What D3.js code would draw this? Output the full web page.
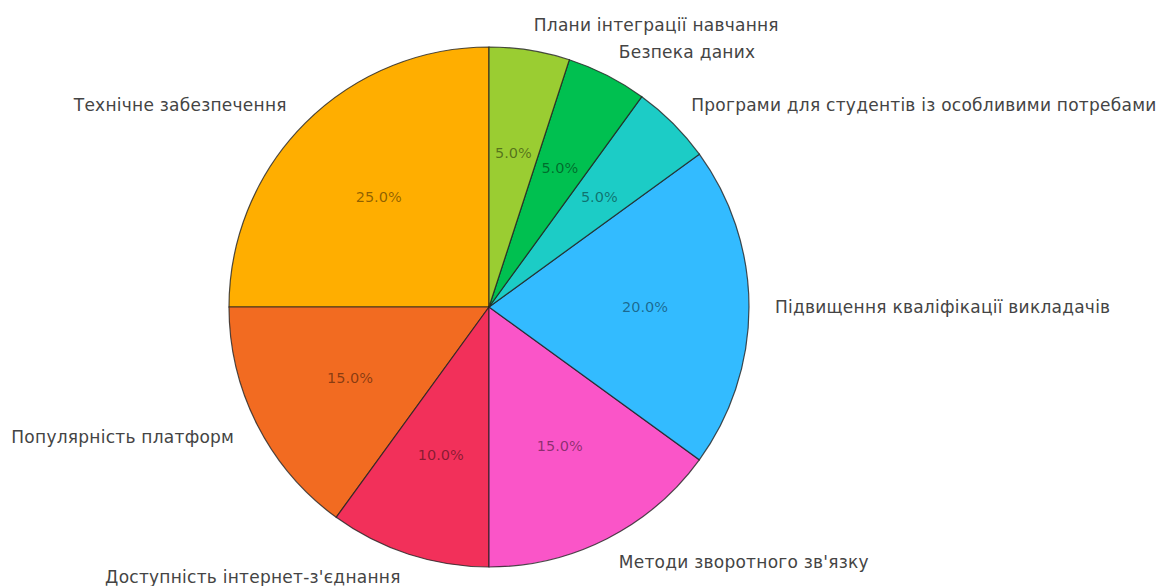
<!DOCTYPE html>
<html><head><meta charset="utf-8">
<script src="https://cdn.jsdelivr.net/npm/d3@7"></script>
<style>body{margin:0;background:#fff}svg{display:block}</style>
</head><body>
<svg id="c" width="1165" height="586"></svg>
<script>
const categories = ["Технічне забезпечення","Популярність платформ","Доступність інтернет-з'єднання","Методи зворотного зв'язку","Підвищення кваліфікації викладачів","Програми для студентів із особливими потребами","Безпека даних","Плани інтеграції навчання"];
const values = [25, 15, 10, 15, 20, 5, 5, 5];
const colors = ["#FFAE00","#F26B21","#F2305A","#FA55C8","#33BBFF","#1CCCC6","#00C050","#9ACD32"];

const svg = d3.select("#c");
const cx = 489, cy = 307, R = 260;
const g = svg.append("g").attr("transform", `translate(${cx},${cy})`);
const total = d3.sum(values);
const pie = d3.pie().sort(null).value(d => d).startAngle(0).endAngle(-2 * Math.PI);
const arcs = pie(values);
const arc = d3.arc().innerRadius(0).outerRadius(R);

g.selectAll("path").data(arcs).join("path")
  .attr("d", arc)
  .attr("fill", (d, i) => colors[i])
  .attr("stroke", "#222")
  .attr("stroke-opacity", 0.8)
  .attr("stroke-width", 1.2);

const fmt = d3.format(".1f");
arcs.forEach((d, i) => {
  const a = (d.startAngle + d.endAngle) / 2; // d3 angle: 0 at top, clockwise
  const x = Math.sin(a), y = -Math.cos(a);
  g.append("text")
    .attr("x", x * R * 0.6).attr("y", y * R * 0.6)
    .attr("text-anchor", "middle").attr("dominant-baseline", "central")
    .attr("font-family", "DejaVu Sans").attr("font-size", 14.5)
    .attr("fill", "#000").attr("fill-opacity", 0.45)
    .text(fmt(values[i] / total * 100) + "%");
  g.append("text")
    .attr("x", x * R * 1.1).attr("y", y * R * 1.1)
    .attr("dy", y > 0.9 ? -2 : 0)
    .attr("text-anchor", x > 0 ? "start" : "end").attr("dominant-baseline", "central")
    .attr("font-family", "DejaVu Sans").attr("font-size", 17)
    .attr("letter-spacing", 0.25)
    .attr("fill", "#444")
    .text(categories[i]);
});
</script>
</body></html>
